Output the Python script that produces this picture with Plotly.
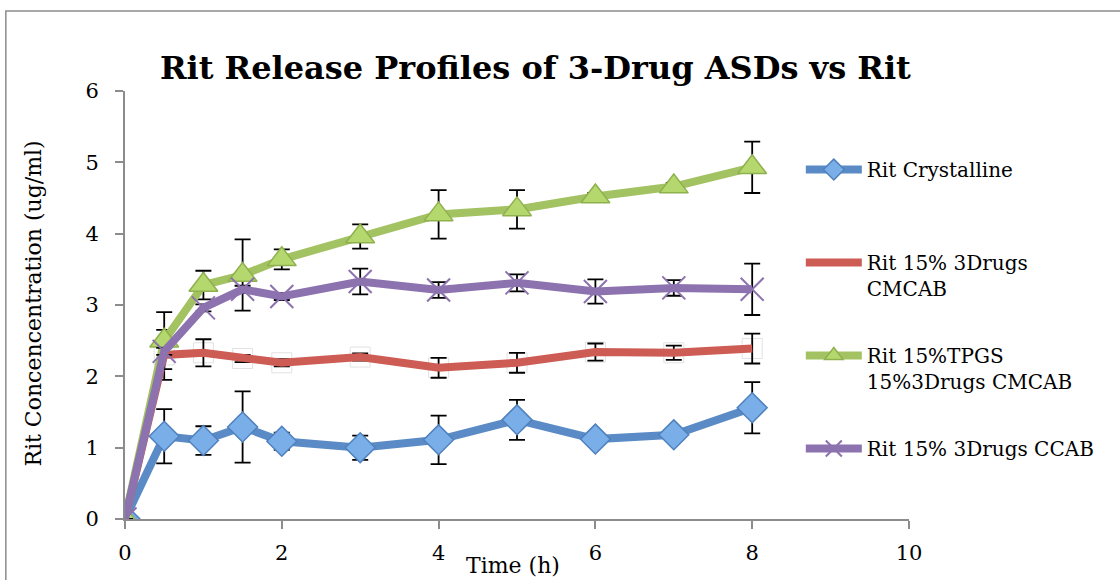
import plotly.graph_objects as go

# Sampling times (h)
time_h = [0, 0.5, 1, 1.5, 2, 3, 4, 5, 6, 7, 8]

# Mean Rit concentrations (ug/ml) and standard deviations for each formulation
crystalline = [0, 1.16, 1.10, 1.29, 1.09, 1.00, 1.11, 1.39, 1.12, 1.18, 1.56]
crystalline_sd = [0, 0.38, 0.20, 0.50, 0.12, 0.17, 0.34, 0.28, 0.05, 0.05, 0.36]

cmcab = [0, 2.30, 2.33, 2.25, 2.19, 2.27, 2.12, 2.19, 2.34, 2.33, 2.39]
cmcab_sd = [0, 0.35, 0.19, 0.05, 0.05, 0.05, 0.14, 0.14, 0.12, 0.10, 0.21]

tpgs_cmcab = [0, 2.50, 3.28, 3.42, 3.64, 3.96, 4.27, 4.34, 4.52, 4.66, 4.93]
tpgs_cmcab_sd = [0, 0.40, 0.20, 0.50, 0.14, 0.17, 0.34, 0.27, 0.05, 0.05, 0.36]

ccab = [0, 2.35, 2.96, 3.22, 3.12, 3.33, 3.21, 3.31, 3.19, 3.24, 3.22]
ccab_sd = [0, 0.05, 0.05, 0.05, 0.05, 0.18, 0.11, 0.12, 0.17, 0.11, 0.36]

names = [
    "Rit Crystalline<br> ",
    "Rit 15% 3Drugs<br>CMCAB",
    "Rit 15%TPGS<br>15%3Drugs CMCAB",
    "Rit 15% 3Drugs CCAB<br> ",
]

FONT = "DejaVu Serif"
BLUE, RED, GREEN, PURPLE = "#5A8BC6", "#CD5C55", "#A3C262", "#8C72AE"


def err(values):
    return dict(type="data", array=values, visible=True,
                color="black", thickness=1.8, width=8)


fig = go.Figure()

fig.add_trace(go.Scatter(
    x=time_h, y=crystalline, name=names[0], mode="lines+markers",
    legendgroup="a",
    line=dict(color=BLUE, width=8),
    marker=dict(symbol="diamond", size=23, color="#79AEE8",
                line=dict(color="#4F81BD", width=1.5)),
    error_y=err(crystalline_sd),
))

# Plain white square markers that sit behind the CMCAB line
fig.add_trace(go.Scatter(
    x=time_h[1:], y=cmcab[1:], mode="markers", showlegend=False,
    hoverinfo="skip",
    marker=dict(symbol="square", size=20, color="white",
                line=dict(color="#E2E2E2", width=1)),
))

fig.add_trace(go.Scatter(
    x=time_h, y=cmcab, name=names[1], mode="lines",
    legendgroup="b",
    line=dict(color=RED, width=8),
    error_y=err(cmcab_sd),
))

fig.add_trace(go.Scatter(
    x=time_h, y=tpgs_cmcab, name=names[2], mode="lines+markers",
    legendgroup="c",
    line=dict(color=GREEN, width=8),
    marker=dict(symbol="triangle-up", size=25, color="#B5D86E",
                line=dict(color="#8FB04E", width=1.5)),
    error_y=err(tpgs_cmcab_sd),
))

fig.add_trace(go.Scatter(
    x=time_h, y=ccab, name=names[3], mode="lines+markers",
    legendgroup="d",
    line=dict(color=PURPLE, width=8),
    marker=dict(symbol="x-thin-open", size=23, color=PURPLE,
                line=dict(color=PURPLE, width=2)),
    error_y=err(ccab_sd),
))

axis_common = dict(
    showgrid=False, zeroline=False, showline=True,
    linecolor="#8C8C8C", linewidth=2,
    ticks="outside", ticklen=8, tickcolor="#8C8C8C", tickwidth=2,
    tickfont=dict(family=FONT, size=21, color="black"),
)

fig.update_layout(
    width=1120, height=580,
    margin=dict(l=125, r=211, t=91, b=61),
    paper_bgcolor="white", plot_bgcolor="white",
    font=dict(family=FONT, color="black"),
    title=dict(text="<b>Rit Release Profiles of 3-Drug ASDs vs Rit</b>",
               x=0.478, xanchor="center", y=0.883, yanchor="middle",
               font=dict(family=FONT, size=32, color="black")),
    xaxis=dict(range=[0, 10], dtick=2, tick0=0, ticklabelstandoff=6,
               **axis_common),
    yaxis=dict(range=[0, 6], dtick=1, tick0=0, ticklabelstandoff=12,
               **axis_common),
    showlegend=True,
    legend=dict(x=0.862, xanchor="left", y=0.862, yanchor="top",
                valign="top", traceorder="grouped", tracegroupgap=38,
                itemwidth=56,
                font=dict(family=FONT, size=20, color="black"),
                bgcolor="rgba(0,0,0,0)"),
    annotations=[
        dict(text="Time (h)", xref="paper", yref="paper",
             x=0.495, y=-0.108, xanchor="center", yanchor="middle",
             showarrow=False, font=dict(family=FONT, size=22)),
        dict(text="Rit Concencentration (ug/ml)", xref="paper", yref="paper",
             x=-0.117, y=0.504, xanchor="center", yanchor="middle",
             textangle=-90, showarrow=False, font=dict(family=FONT, size=22)),
    ],
    shapes=[
        dict(type="rect", xref="paper", yref="paper", layer="below",
             x0=-0.152, x1=1.6, y0=-0.5, y1=1.187,
             line=dict(color="#8C8C8C", width=1.5)),
    ],
)

fig.write_html("out.html")
